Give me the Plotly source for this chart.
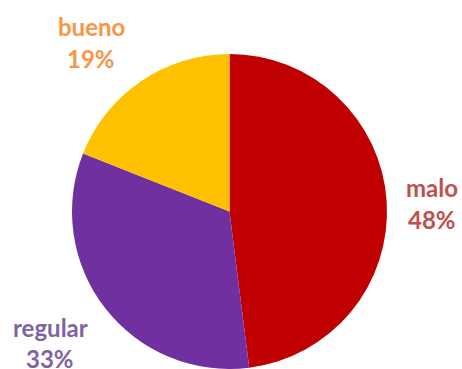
import plotly.graph_objects as go

categories = ["malo", "regular", "bueno"]
values = [48, 33, 19]
slice_colors = ["#C00000", "#7030A0", "#FFC000"]
label_colors = ["#C0504D", "#8064A2", "#F79646"]

W, H = 462, 369
# label centre positions in pixels (x, y of name line, y of percent line)
label_pos = {"malo": (432, 187, 219), "regular": (50, 327, 358), "bueno": (91, 27, 59)}

fig = go.Figure(go.Pie(
    labels=categories, values=values, sort=False, direction="clockwise", rotation=0,
    marker=dict(colors=slice_colors, line=dict(width=0)),
    textinfo="none", hoverinfo="label+percent",
    domain=dict(x=[72 / W, 387 / W], y=[0, 315 / H]),
    showlegend=False,
))

total = sum(values)
for cat, val, col in zip(categories, values, label_colors):
    x, y1, y2 = label_pos[cat]
    pct = f"{round(100 * val / total)}%"
    for txt, yy in ((cat, y1), (pct, y2)):
        fig.add_annotation(x=x / W, y=1 - yy / H, xref="paper", yref="paper",
                           text=f"<b>{txt}</b>", showarrow=False,
                           xanchor="center", yanchor="middle",
                           font=dict(family="Lato", size=24, color=col))

fig.update_layout(width=W, height=H, margin=dict(l=0, r=0, t=0, b=0),
                  paper_bgcolor="white", plot_bgcolor="white")
fig.write_html("out.html")
